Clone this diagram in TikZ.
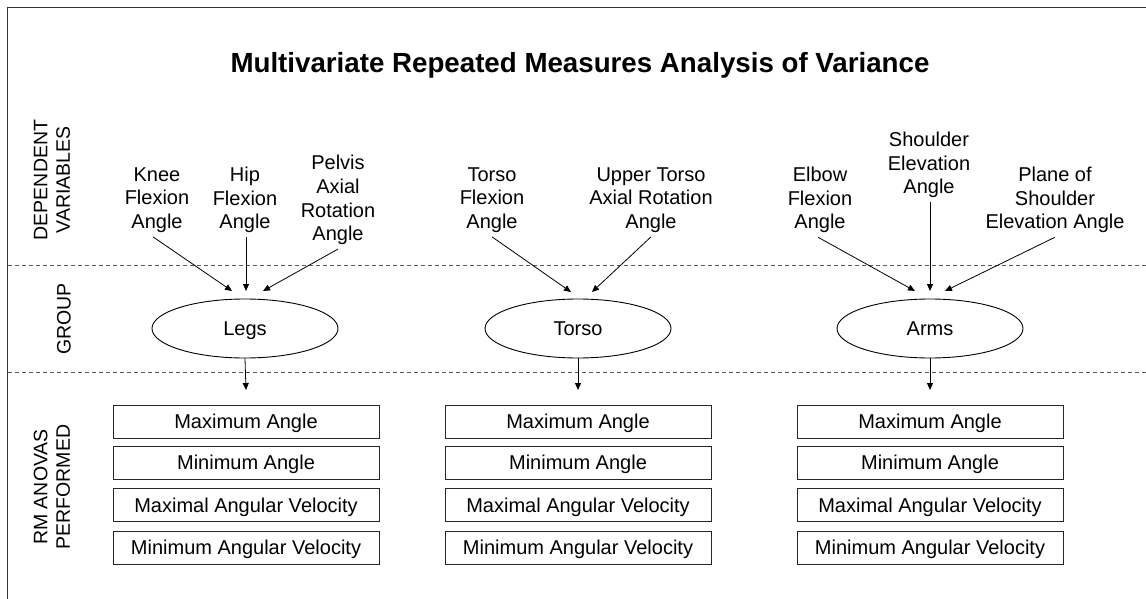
\documentclass[tikz,border=0pt]{standalone}
\usepackage{fontspec}
\setmainfont{Liberation Sans}
\usetikzlibrary{arrows.meta,shapes.geometric}

\tikzset{
  frameline/.style={draw=black!80, line width=1.8pt},
  divider/.style={draw=black!65, line width=0.9pt, dash pattern=on 4pt off 3pt},
  rowlabel/.style={rotate=90, align=center, inner sep=0pt,
    font=\fontsize{19.5}{22.5}\selectfont},
  varlabel/.style={align=center, inner sep=2pt,
    font=\fontsize{20}{23.7}\selectfont},
  groupnode/.style={ellipse, draw, line width=0.9pt, minimum width=186pt,
    minimum height=59pt, inner sep=0pt, text height=14.5pt, text depth=0pt,
    font=\fontsize{20}{23.7}\selectfont},
  measurebox/.style={rectangle, draw=black!85, line width=0.9pt,
    minimum width=266pt, minimum height=33pt, inner sep=0pt,
    text height=14.5pt, text depth=0pt, font=\fontsize{20}{23.7}\selectfont},
  arr/.style={draw, line width=0.8pt, -{Triangle[length=7pt,width=6pt]}},
}

\begin{document}
\begin{tikzpicture}[x=1pt, y=-1pt]
  \useasboundingbox (0,0) rectangle (1146,599);

  % outer frame (top and left edges)
  \draw[frameline] (1146,7.5) -- (7.5,7.5) -- (7.5,599);

  % title
  \node[font=\fontsize{27.7}{32}\selectfont\bfseries, text height=20pt,
    text depth=0pt, inner sep=0pt] (title) at (580,62.5)
    {Multivariate Repeated Measures Analysis of Variance};

  % section dividers
  \draw[divider] (8,265.5) -- (1146,265.5);
  \draw[divider] (8,372) -- (1146,372);

  % row labels
  \node[rowlabel] (lbldv) at (52,180) {DEPENDENT\\VARIABLES};
  \node[rowlabel] (lblgrp) at (64,319) {GROUP};
  \node[rowlabel] (lblrm) at (52,487) {RM ANOVAS\\PERFORMED};

  % dependent variables
  \node[varlabel] (knee)   at (157,200) {Knee\\Flexion\\Angle};
  \node[varlabel] (hip)    at (245,200) {Hip\\Flexion\\Angle};
  \node[varlabel] (pelvis) at (338,200) {Pelvis\\Axial\\Rotation\\Angle};
  \node[varlabel] (torsofl) at (492,200) {Torso\\Flexion\\Angle};
  \node[varlabel] (uptorso) at (651,200) {Upper Torso\\Axial Rotation\\Angle};
  \node[varlabel] (elbow)  at (820,200) {Elbow\\Flexion\\Angle};
  \node[varlabel] (shelev) at (929,165) {Shoulder\\Elevation\\Angle};
  \node[varlabel] (plane)  at (1055,200) {Plane of\\Shoulder\\Elevation Angle};

  % groups
  \node[groupnode] (legs)  at (245,328.5) {Legs};
  \node[groupnode] (torso) at (578,328.5) {Torso};
  \node[groupnode] (arms)  at (930,328.5) {Arms};

  % arrow tips above each group
  \coordinate (legsL) at (232,291);
  \coordinate (legsM) at (246,291);
  \coordinate (legsR) at (263,291);
  \coordinate (torsoL) at (571,292);
  \coordinate (torsoR) at (592,292);
  \coordinate (armsL) at (915,291);
  \coordinate (armsM) at (930,291);
  \coordinate (armsR) at (945,291);

  \draw[arr] ([xshift=-4pt,yshift=-2pt]knee.south) -- (legsL);
  \draw[arr] ([xshift=1pt,yshift=-2pt]hip.south) -- (legsM);
  \draw[arr] ([yshift=-2pt]pelvis.south) -- (legsR);
  \draw[arr] ([yshift=-2pt]torsofl.south) -- (torsoL);
  \draw[arr] ([yshift=-2pt]uptorso.south) -- (torsoR);
  \draw[arr] ([xshift=-2pt,yshift=-2pt]elbow.south) -- (armsL);
  \draw[arr] ([xshift=1pt,yshift=-2pt]shelev.south) -- (armsM);
  \draw[arr] ([yshift=-2pt]plane.south) -- (armsR);

  % measures for each group
  \foreach \g/\x in {legs/246, torso/578, arms/930} {
    \node[measurebox] (\g max)  at (\x,421.5) {Maximum Angle};
    \node[measurebox] (\g min)  at (\x,462.5) {Minimum Angle};
    \node[measurebox] (\g vmax) at (\x,505)   {Maximal Angular Velocity};
    \node[measurebox] (\g vmin) at (\x,547.5) {Minimum Angular Velocity};
    \coordinate (\g down) at (\x,390);
  }

  \draw[arr] (legs.south) -- (legsdown);
  \draw[arr] (torso.south) -- (torsodown);
  \draw[arr] (arms.south) -- (armsdown);
\end{tikzpicture}
\end{document}
